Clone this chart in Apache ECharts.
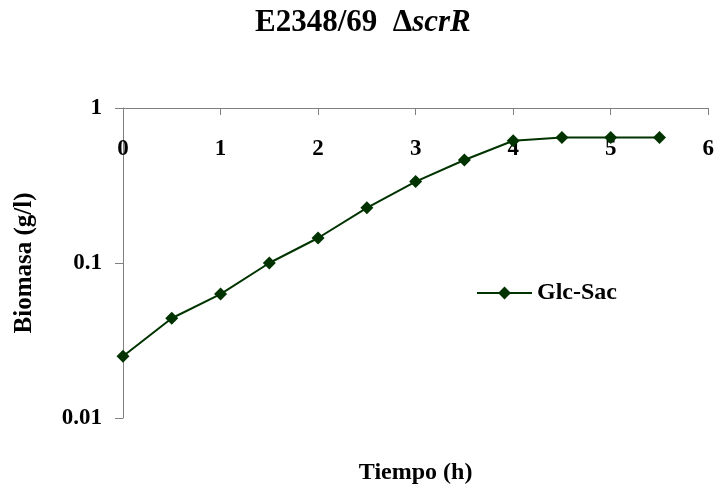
<!DOCTYPE html>
<html>
<head>
<meta charset="utf-8">
<script src="https://cdn.jsdelivr.net/npm/echarts@6/dist/echarts.min.js"></script>
<style>
html,body{margin:0;padding:0;background:#fff;}
#chart{width:717px;height:491px;}
</style>
</head>
<body>
<div id="chart"></div>
<script>
const timeHours = [0, 0.5, 1, 1.5, 2, 2.5, 3, 3.5, 4, 4.5, 5, 5.5];
const biomasa = [0.025, 0.044, 0.063, 0.1, 0.145, 0.227, 0.335, 0.462, 0.615, 0.645, 0.645, 0.645];
const seriesName = 'Glc-Sac';
const yTickLabels = ['0.01', '0.1', '1'];
const xTickLabels = ['0', '1', '2', '3', '4', '5', '6'];

const FONT = '"Liberation Serif", "Times New Roman", serif';
const chart = echarts.init(document.getElementById('chart'), null, {renderer: 'canvas'});
chart.setOption({
  animation: false,
  backgroundColor: '#fff',
  title: {
    text: '{a|E2348/69  Δ}{b|scrR}',
    left: 250,
    top: 2,
    textStyle: {
      rich: {
        a: {fontFamily: FONT, fontWeight: 'bold', fontSize: 31, color: '#000'},
        b: {fontFamily: FONT, fontWeight: 'bold', fontStyle: 'italic', fontSize: 31, color: '#000'}
      }
    }
  },
  legend: {
    data: [seriesName],
    left: 476,
    top: 281,
    padding: 0,
    itemWidth: 55,
    itemHeight: 16,
    itemGap: 0,
    textStyle: {fontFamily: FONT, fontWeight: 'bold', fontSize: 24, color: '#000', padding: [0, 0, 0, 0]}
  },
  grid: {left: 123, top: 108, right: 8.7, bottom: 73, containLabel: false},
  xAxis: [{
    type: 'value',
    position: 'top',
    min: 0, max: 6, interval: 1,
    axisLine: {show: true, lineStyle: {color: '#808080', width: 1}},
    axisTick: {show: true, inside: true, length: 7, lineStyle: {color: '#808080'}},
    splitLine: {show: false},
    axisLabel: {
      inside: true, margin: 41, verticalAlign: 'middle',
      fontFamily: FONT, fontWeight: 'bold', fontSize: 23, color: '#000',
      formatter: v => xTickLabels[Math.round(v)]
    }
  }, {
    type: 'value',
    position: 'bottom',
    min: 0, max: 6,
    axisLine: {show: false}, axisTick: {show: false}, axisLabel: {show: false}, splitLine: {show: false},
    name: 'Tiempo (h)',
    nameLocation: 'middle',
    nameGap: 43,
    nameTextStyle: {fontFamily: FONT, fontWeight: 'bold', fontSize: 24, color: '#000', verticalAlign: 'top'}
  }],
  yAxis: {
    type: 'log',
    logBase: 10,
    min: 0.01, max: 1,
    axisLine: {show: true, lineStyle: {color: '#808080', width: 1}},
    axisTick: {show: true, length: 8, lineStyle: {color: '#808080'}},
    splitLine: {show: false},
    axisLabel: {
      margin: 21,
      fontFamily: FONT, fontWeight: 'bold', fontSize: 23, color: '#000',
      formatter: v => yTickLabels[Math.round(Math.log10(v)) + 2]
    },
    name: 'Biomasa (g/l)',
    nameLocation: 'middle',
    nameGap: 86,
    nameTextStyle: {fontFamily: FONT, fontWeight: 'bold', fontSize: 25, color: '#000'}
  },
  series: [{
    name: seriesName,
    type: 'line',
    xAxisIndex: 0,
    data: timeHours.map((t, i) => [t, biomasa[i]]),
    symbol: 'diamond',
    symbolSize: 13,
    lineStyle: {color: '#003300', width: 2},
    itemStyle: {color: '#003300'}
  }]
});
</script>
</body>
</html>
